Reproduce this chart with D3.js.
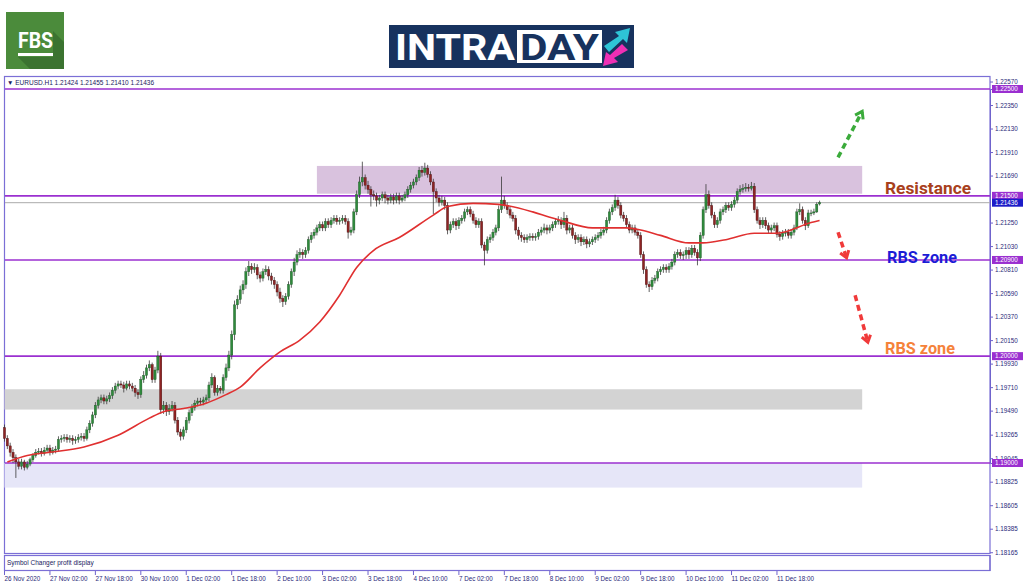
<!DOCTYPE html>
<html>
<head>
<meta charset="utf-8">
<script src="https://cdn.jsdelivr.net/npm/d3@7"></script>
<style>
body { margin: 0; background: #fff; }
svg { display: block; font-family: "Liberation Sans", Arial, sans-serif; }
</style>
</head>
<body>
<div id="chart"></div>
<script>
var width = 1024,
    height = 587;

// bottom axis labels, one every 16 hourly bars
var timeLabels = ["26 Nov 2020", "27 Nov 02:00", "27 Nov 18:00", "30 Nov 10:00", "1 Dec 02:00", "1 Dec 18:00",
    "2 Dec 10:00", "3 Dec 02:00", "3 Dec 18:00", "4 Dec 10:00", "7 Dec 02:00", "7 Dec 18:00", "8 Dec 10:00",
    "9 Dec 02:00", "9 Dec 18:00", "10 Dec 10:00", "11 Dec 02:00", "11 Dec 18:00"];

var priceTicks = [1.22570, 1.22350, 1.22130, 1.21910, 1.21690, 1.21250, 1.21030, 1.20810, 1.20590, 1.20370,
    1.20150, 1.19930, 1.19710, 1.19490, 1.19265, 1.19045, 1.18825, 1.18605, 1.18385, 1.18165];

var levels = [1.22500, 1.21500, 1.20900, 1.20000, 1.19000];
var lastPrice = 1.21436;

// EURUSD H1 candles, 16 bars per row
var opens = [
    1.1933, 1.1923, 1.1916, 1.1910, 1.1905, 1.1901, 1.1897, 1.1901, 1.1896, 1.1899, 1.1903, 1.1907, 1.1910, 1.1911, 1.1909, 1.1912,
    1.1914, 1.1910, 1.1912, 1.1913, 1.1922, 1.1923, 1.1924, 1.1922, 1.1923, 1.1921, 1.1922, 1.1924, 1.1925, 1.1923, 1.1931, 1.1937,
    1.1945, 1.1954, 1.1959, 1.1961, 1.1958, 1.1960, 1.1963, 1.1968, 1.1972, 1.1974, 1.1973, 1.1970, 1.1974, 1.1972, 1.1970, 1.1966,
    1.1964, 1.1978, 1.1982, 1.1989, 1.1992, 1.1978, 1.1987, 1.2000, 1.1950, 1.1954, 1.1948, 1.1951, 1.1954, 1.1940, 1.1929, 1.1925,
    1.1931, 1.1940, 1.1947, 1.1952, 1.1956, 1.1958, 1.1957, 1.1959, 1.1961, 1.1973, 1.1980, 1.1966, 1.1970, 1.1968, 1.1980, 1.1989,
    1.2001, 1.2020, 1.2048, 1.2053, 1.2062, 1.2067, 1.2079, 1.2084, 1.2081, 1.2083, 1.2076, 1.2073, 1.2079, 1.2081, 1.2075, 1.2071,
    1.2067, 1.2060, 1.2054, 1.2051, 1.2056, 1.2067, 1.2079, 1.2088, 1.2095, 1.2097, 1.2095, 1.2099, 1.2109, 1.2113, 1.2116, 1.2120,
    1.2123, 1.2120, 1.2126, 1.2123, 1.2127, 1.2129, 1.2126, 1.2127, 1.2129, 1.2126, 1.2116, 1.2118, 1.2135, 1.2151, 1.2163, 1.2167,
    1.2160, 1.2156, 1.2151, 1.2150, 1.2146, 1.2148, 1.2151, 1.2148, 1.2146, 1.2149, 1.2146, 1.2150, 1.2146, 1.2148, 1.2151, 1.2156,
    1.2160, 1.2163, 1.2167, 1.2174, 1.2172, 1.2176, 1.2170, 1.2163, 1.2154, 1.2148, 1.2144, 1.2146, 1.2141, 1.2118, 1.2123, 1.2126,
    1.2122, 1.2127, 1.2129, 1.2135, 1.2137, 1.2133, 1.2127, 1.2123, 1.2126, 1.2104, 1.2099, 1.2109, 1.2111, 1.2116, 1.2120, 1.2137,
    1.2146, 1.2141, 1.2137, 1.2132, 1.2129, 1.2118, 1.2113, 1.2111, 1.2109, 1.2111, 1.2112, 1.2111, 1.2112, 1.2116, 1.2118, 1.2120,
    1.2118, 1.2120, 1.2123, 1.2126, 1.2127, 1.2123, 1.2129, 1.2118, 1.2120, 1.2113, 1.2109, 1.2111, 1.2107, 1.2109, 1.2105, 1.2107,
    1.2109, 1.2111, 1.2113, 1.2116, 1.2118, 1.2127, 1.2135, 1.2139, 1.2146, 1.2141, 1.2132, 1.2129, 1.2123, 1.2118, 1.2120, 1.2116,
    1.2113, 1.2095, 1.2081, 1.2067, 1.2065, 1.2071, 1.2073, 1.2079, 1.2081, 1.2083, 1.2081, 1.2084, 1.2088, 1.2095, 1.2097, 1.2094,
    1.2095, 1.2099, 1.2095, 1.2101, 1.2097, 1.2092, 1.2113, 1.2137, 1.2151, 1.2141, 1.2132, 1.2123, 1.2127, 1.2135, 1.2137, 1.2141,
    1.2139, 1.2142, 1.2146, 1.2154, 1.2156, 1.2157, 1.2158, 1.2157, 1.2159, 1.2137, 1.2127, 1.2123, 1.2127, 1.2122, 1.2118, 1.2120,
    1.2122, 1.2114, 1.2112, 1.2115, 1.2116, 1.2113, 1.2116, 1.2120, 1.2135, 1.2137, 1.2127, 1.2122, 1.2134, 1.2134, 1.2135, 1.21424
];
var highs = [
    1.1936, 1.1926, 1.1919, 1.1913, 1.1908, 1.1904, 1.1904, 1.1903, 1.1902, 1.1905, 1.1909, 1.1913, 1.1914, 1.1914, 1.1915, 1.1917,
    1.1917, 1.1915, 1.1916, 1.1925, 1.1926, 1.1927, 1.1927, 1.1926, 1.1926, 1.1925, 1.1927, 1.1928, 1.1928, 1.1934, 1.1940, 1.1948,
    1.1957, 1.1962, 1.1964, 1.1964, 1.1963, 1.1966, 1.1971, 1.1975, 1.1977, 1.1977, 1.1976, 1.1977, 1.1977, 1.1975, 1.1973, 1.1969,
    1.1981, 1.1986, 1.1992, 1.1996, 1.1994, 1.1990, 1.2005, 1.2003, 1.1958, 1.1957, 1.1955, 1.1958, 1.1957, 1.1943, 1.1932, 1.1934,
    1.1943, 1.1950, 1.1955, 1.1959, 1.1961, 1.1961, 1.1962, 1.1964, 1.1976, 1.1984, 1.1982, 1.1973, 1.1972, 1.1983, 1.1993, 1.2005,
    1.2024, 1.2052, 1.2057, 1.2066, 1.2071, 1.2083, 1.2089, 1.2087, 1.2087, 1.2086, 1.2079, 1.2082, 1.2085, 1.2084, 1.2078, 1.2074,
    1.2070, 1.2064, 1.2057, 1.2059, 1.2070, 1.2082, 1.2092, 1.2099, 1.2101, 1.2100, 1.2102, 1.2112, 1.2116, 1.2119, 1.2123, 1.2126,
    1.2126, 1.2129, 1.2129, 1.2130, 1.2132, 1.2132, 1.2130, 1.2132, 1.2132, 1.2129, 1.2121, 1.2138, 1.2155, 1.2168, 1.2182, 1.2170,
    1.2164, 1.2159, 1.2155, 1.2153, 1.2151, 1.2154, 1.2154, 1.2151, 1.2152, 1.2152, 1.2153, 1.2153, 1.2151, 1.2154, 1.2159, 1.2163,
    1.2166, 1.2170, 1.2177, 1.2178, 1.2181, 1.2179, 1.2173, 1.2166, 1.2157, 1.2151, 1.2150, 1.2149, 1.2144, 1.2126, 1.2129, 1.2129,
    1.2130, 1.2132, 1.2138, 1.2140, 1.2140, 1.2136, 1.2130, 1.2129, 1.2129, 1.2107, 1.2112, 1.2114, 1.2119, 1.2123, 1.2141, 1.2168,
    1.2150, 1.2144, 1.2140, 1.2135, 1.2132, 1.2121, 1.2116, 1.2114, 1.2114, 1.2115, 1.2115, 1.2115, 1.2119, 1.2121, 1.2124, 1.2123,
    1.2123, 1.2126, 1.2129, 1.2131, 1.2130, 1.2135, 1.2132, 1.2123, 1.2123, 1.2116, 1.2114, 1.2114, 1.2112, 1.2112, 1.2110, 1.2112,
    1.2114, 1.2116, 1.2119, 1.2121, 1.2130, 1.2138, 1.2142, 1.2151, 1.2149, 1.2144, 1.2135, 1.2132, 1.2126, 1.2123, 1.2123, 1.2119,
    1.2116, 1.2098, 1.2084, 1.2070, 1.2074, 1.2076, 1.2082, 1.2084, 1.2086, 1.2086, 1.2087, 1.2091, 1.2098, 1.2100, 1.2100, 1.2098,
    1.2102, 1.2102, 1.2104, 1.2104, 1.2100, 1.2116, 1.2140, 1.2161, 1.2155, 1.2144, 1.2135, 1.2130, 1.2138, 1.2140, 1.2144, 1.2144,
    1.2145, 1.2149, 1.2157, 1.2160, 1.2161, 1.2162, 1.2161, 1.2163, 1.2162, 1.2140, 1.2130, 1.2130, 1.2130, 1.2125, 1.2123, 1.2125,
    1.2125, 1.2117, 1.2118, 1.2119, 1.2119, 1.2119, 1.2123, 1.2138, 1.2143, 1.2140, 1.2130, 1.2137, 1.2137, 1.2138, 1.2144, 1.21455
];
var lows = [
    1.1920, 1.1913, 1.1906, 1.1900, 1.1886, 1.1894, 1.1894, 1.1893, 1.1894, 1.1897, 1.1901, 1.1905, 1.1908, 1.1906, 1.1907, 1.1910,
    1.1907, 1.1908, 1.1909, 1.1911, 1.1919, 1.1920, 1.1919, 1.1919, 1.1917, 1.1918, 1.1919, 1.1921, 1.1920, 1.1921, 1.1928, 1.1934,
    1.1942, 1.1951, 1.1956, 1.1955, 1.1955, 1.1957, 1.1960, 1.1965, 1.1969, 1.1970, 1.1966, 1.1968, 1.1969, 1.1967, 1.1962, 1.1960,
    1.1961, 1.1975, 1.1979, 1.1986, 1.1975, 1.1975, 1.1984, 1.1946, 1.1946, 1.1944, 1.1945, 1.1948, 1.1937, 1.1926, 1.1921, 1.1922,
    1.1928, 1.1937, 1.1944, 1.1949, 1.1953, 1.1954, 1.1954, 1.1956, 1.1958, 1.1970, 1.1963, 1.1963, 1.1965, 1.1965, 1.1977, 1.1986,
    1.1997, 1.2015, 1.2044, 1.2049, 1.2058, 1.2063, 1.2075, 1.2077, 1.2078, 1.2072, 1.2069, 1.2070, 1.2076, 1.2071, 1.2067, 1.2063,
    1.2056, 1.2050, 1.2046, 1.2048, 1.2053, 1.2064, 1.2075, 1.2085, 1.2092, 1.2091, 1.2092, 1.2096, 1.2106, 1.2110, 1.2113, 1.2117,
    1.2117, 1.2117, 1.2120, 1.2120, 1.2124, 1.2123, 1.2123, 1.2124, 1.2123, 1.2110, 1.2113, 1.2115, 1.2132, 1.2148, 1.2159, 1.2156,
    1.2152, 1.2140, 1.2146, 1.2140, 1.2142, 1.2145, 1.2143, 1.2142, 1.2143, 1.2142, 1.2143, 1.2142, 1.2144, 1.2145, 1.2148, 1.2153,
    1.2157, 1.2160, 1.2164, 1.2168, 1.2169, 1.2167, 1.2160, 1.2133, 1.2144, 1.2140, 1.2141, 1.2137, 1.2114, 1.2115, 1.2120, 1.2118,
    1.2119, 1.2124, 1.2126, 1.2132, 1.2130, 1.2124, 1.2120, 1.2120, 1.2101, 1.2085, 1.2096, 1.2106, 1.2108, 1.2113, 1.2117, 1.2134,
    1.2138, 1.2133, 1.2129, 1.2126, 1.2114, 1.2109, 1.2107, 1.2106, 1.2106, 1.2108, 1.2108, 1.2108, 1.2109, 1.2113, 1.2115, 1.2114,
    1.2115, 1.2117, 1.2120, 1.2123, 1.2119, 1.2120, 1.2114, 1.2115, 1.2110, 1.2105, 1.2106, 1.2103, 1.2104, 1.2101, 1.2102, 1.2104,
    1.2106, 1.2108, 1.2110, 1.2113, 1.2115, 1.2124, 1.2132, 1.2136, 1.2138, 1.2129, 1.2126, 1.2120, 1.2115, 1.2115, 1.2113, 1.2110,
    1.2092, 1.2077, 1.2064, 1.2060, 1.2062, 1.2068, 1.2070, 1.2076, 1.2078, 1.2078, 1.2078, 1.2081, 1.2085, 1.2092, 1.2091, 1.2090,
    1.2091, 1.2091, 1.2092, 1.2094, 1.2085, 1.2089, 1.2110, 1.2134, 1.2138, 1.2129, 1.2120, 1.2120, 1.2124, 1.2132, 1.2134, 1.2136,
    1.2136, 1.2139, 1.2143, 1.2151, 1.2153, 1.2154, 1.2154, 1.2155, 1.2134, 1.2124, 1.2119, 1.2120, 1.2119, 1.2115, 1.2115, 1.2117,
    1.2111, 1.2108, 1.2109, 1.2112, 1.2110, 1.2110, 1.2113, 1.2118, 1.2132, 1.2124, 1.2118, 1.2120, 1.2131, 1.2132, 1.2134, 1.21410
];
var closes = [
    1.1923, 1.1916, 1.1910, 1.1905, 1.1901, 1.1897, 1.1901, 1.1896, 1.1899, 1.1903, 1.1907, 1.1910, 1.1911, 1.1909, 1.1912, 1.1914,
    1.1910, 1.1912, 1.1913, 1.1922, 1.1923, 1.1924, 1.1922, 1.1923, 1.1921, 1.1922, 1.1924, 1.1925, 1.1923, 1.1931, 1.1937, 1.1945,
    1.1954, 1.1959, 1.1961, 1.1958, 1.1960, 1.1963, 1.1968, 1.1972, 1.1974, 1.1973, 1.1970, 1.1974, 1.1972, 1.1970, 1.1966, 1.1964,
    1.1978, 1.1982, 1.1989, 1.1992, 1.1978, 1.1987, 1.2000, 1.1950, 1.1954, 1.1948, 1.1951, 1.1954, 1.1940, 1.1929, 1.1925, 1.1931,
    1.1940, 1.1947, 1.1952, 1.1956, 1.1958, 1.1957, 1.1959, 1.1961, 1.1973, 1.1980, 1.1966, 1.1970, 1.1968, 1.1980, 1.1989, 1.2001,
    1.2020, 1.2048, 1.2053, 1.2062, 1.2067, 1.2079, 1.2084, 1.2081, 1.2083, 1.2076, 1.2073, 1.2079, 1.2081, 1.2075, 1.2071, 1.2067,
    1.2060, 1.2054, 1.2051, 1.2056, 1.2067, 1.2079, 1.2088, 1.2095, 1.2097, 1.2095, 1.2099, 1.2109, 1.2113, 1.2116, 1.2120, 1.2123,
    1.2120, 1.2126, 1.2123, 1.2127, 1.2129, 1.2126, 1.2127, 1.2129, 1.2126, 1.2116, 1.2118, 1.2135, 1.2151, 1.2163, 1.2167, 1.2160,
    1.2156, 1.2151, 1.2150, 1.2146, 1.2148, 1.2151, 1.2148, 1.2146, 1.2149, 1.2146, 1.2150, 1.2146, 1.2148, 1.2151, 1.2156, 1.2160,
    1.2163, 1.2167, 1.2174, 1.2172, 1.2176, 1.2170, 1.2163, 1.2154, 1.2148, 1.2144, 1.2146, 1.2141, 1.2118, 1.2123, 1.2126, 1.2122,
    1.2127, 1.2129, 1.2135, 1.2137, 1.2133, 1.2127, 1.2123, 1.2126, 1.2104, 1.2099, 1.2109, 1.2111, 1.2116, 1.2120, 1.2137, 1.2146,
    1.2141, 1.2137, 1.2132, 1.2129, 1.2118, 1.2113, 1.2111, 1.2109, 1.2111, 1.2112, 1.2111, 1.2112, 1.2116, 1.2118, 1.2120, 1.2118,
    1.2120, 1.2123, 1.2126, 1.2127, 1.2123, 1.2129, 1.2118, 1.2120, 1.2113, 1.2109, 1.2111, 1.2107, 1.2109, 1.2105, 1.2107, 1.2109,
    1.2111, 1.2113, 1.2116, 1.2118, 1.2127, 1.2135, 1.2139, 1.2146, 1.2141, 1.2132, 1.2129, 1.2123, 1.2118, 1.2120, 1.2116, 1.2113,
    1.2095, 1.2081, 1.2067, 1.2065, 1.2071, 1.2073, 1.2079, 1.2081, 1.2083, 1.2081, 1.2084, 1.2088, 1.2095, 1.2097, 1.2094, 1.2095,
    1.2099, 1.2095, 1.2101, 1.2097, 1.2092, 1.2113, 1.2137, 1.2151, 1.2141, 1.2132, 1.2123, 1.2127, 1.2135, 1.2137, 1.2141, 1.2139,
    1.2142, 1.2146, 1.2154, 1.2156, 1.2157, 1.2158, 1.2157, 1.2159, 1.2137, 1.2127, 1.2123, 1.2127, 1.2122, 1.2118, 1.2120, 1.2122,
    1.2114, 1.2112, 1.2115, 1.2116, 1.2113, 1.2116, 1.2120, 1.2135, 1.2137, 1.2127, 1.2122, 1.2134, 1.2134, 1.2135, 1.2142, 1.21436
];

// red moving average, read at a few bars
var maIndex = [1, 8, 16, 28, 40, 51, 56, 63, 71, 78, 83, 90, 97, 104, 111, 118, 124, 130, 139, 151, 156, 165, 174, 186, 192,
    196, 207, 219, 224, 231, 241, 246, 254, 264, 272, 284, 287];
var maValues = [1.1901, 1.1907, 1.1910, 1.1915, 1.1926, 1.1942, 1.1948, 1.1951, 1.1956, 1.1964, 1.1971, 1.1989, 1.2004, 1.2015,
    1.2032, 1.2057, 1.2083, 1.2099, 1.2111, 1.2132, 1.2140, 1.2143, 1.2142, 1.2135, 1.2130, 1.2127, 1.2120, 1.2120, 1.2118,
    1.2113, 1.2106, 1.2106, 1.2109, 1.2115, 1.2115, 1.2125, 1.2127];

// shaded zones: top, bottom, first bar, last bar
var zoneTops = [1.2178, 1.1969, 1.1900];
var zoneBottoms = [1.2152, 1.1950, 1.1877];
var zoneStarts = [110, 0, 0];
var zoneEnds = [302, 302, 302];
var zoneColors = ["#d9c2de", "#d3d3d3", "#e6e6f8"];

var svg = d3.select("#chart").append("svg")
    .attr("width", width)
    .attr("height", height);

var x = d3.scaleLinear().domain([0, closes.length - 1]).range([4.5, 4.5 + 2.84 * (closes.length - 1)]);
var y = d3.scaleLinear().domain([1.19, 1.225]).range([463, 89]);

var axisX = 990, panelTop = 76, panelBottom = 553;

// logos
var fbs = svg.append("g");
fbs.append("rect").attr("x", 6).attr("y", 12).attr("width", 58).attr("height", 57).attr("fill", "#4b8b3b");
fbs.append("polygon").attr("points", "18,57 53,57 53,31 64,42 64,69 30,69").attr("fill", "#3b7330");
fbs.append("text").attr("x", 18).attr("y", 48).attr("textLength", 35).attr("lengthAdjust", "spacingAndGlyphs")
    .attr("fill", "#fff").style("font", "bold 22px Roboto").text("FBS");
fbs.append("rect").attr("x", 18).attr("y", 53).attr("width", 35).attr("height", 3).attr("fill", "#fff");

var intra = svg.append("g");
intra.append("rect").attr("x", 389).attr("y", 25).attr("width", 245).attr("height", 43).attr("fill", "#17325e");
intra.append("rect").attr("x", 517).attr("y", 30).attr("width", 85).attr("height", 33).attr("fill", "#fff");
intra.append("text").attr("x", 395).attr("y", 60).attr("textLength", 120).attr("lengthAdjust", "spacingAndGlyphs")
    .attr("fill", "#fff").style("font", "bold 37px Roboto").text("INTRA");
intra.append("text").attr("x", 520).attr("y", 60).attr("textLength", 79).attr("lengthAdjust", "spacingAndGlyphs")
    .attr("fill", "#17325e").style("font", "bold 37px Roboto").text("DAY");
intra.append("polygon").attr("points", "604,46 619,36 615,32 630,28 627,43 623,39 609,52").attr("fill", "#2ec4d6");
intra.append("polygon").attr("points", "628,50 614,58 618,62 603,66 606,52 610,55 622,44").attr("fill", "#ee2fb4");

// chart frame
svg.append("rect").attr("x", 4.5).attr("y", panelTop + 0.5).attr("width", axisX - 4.5).attr("height", panelBottom - panelTop)
    .attr("fill", "#fff").attr("stroke", "#7b6fd6").attr("stroke-width", 1.2);
svg.append("rect").attr("x", 4.5).attr("y", 555.5).attr("width", axisX - 4.5).attr("height", 15)
    .attr("fill", "#fff").attr("stroke", "#7b6fd6").attr("stroke-width", 1.2);

svg.append("text").attr("x", 7).attr("y", 85).attr("fill", "#1a1a5e").style("font-size", "6.5px")
    .text("\u25BC EURUSD.H1  1.21424 1.21455 1.21410 1.21436");
svg.append("text").attr("x", 7).attr("y", 565).attr("fill", "#1a1a5e").style("font-size", "6.5px")
    .text("Symbol Changer profit display");

// zones
svg.append("g").selectAll("rect").data(zoneTops).enter().append("rect")
    .attr("x", function (d, i) { return x(zoneStarts[i]); })
    .attr("y", function (d) { return y(d); })
    .attr("width", function (d, i) { return x(zoneEnds[i]) - x(zoneStarts[i]); })
    .attr("height", function (d, i) { return y(zoneBottoms[i]) - y(d); })
    .attr("fill", function (d, i) { return zoneColors[i]; });

// levels
svg.append("g").selectAll("line").data(levels).enter().append("line")
    .attr("x1", 5).attr("x2", axisX)
    .attr("y1", function (d) { return y(d); }).attr("y2", function (d) { return y(d); })
    .attr("stroke", "#9b30d0").attr("stroke-width", 1.6);
svg.append("line").attr("x1", 5).attr("x2", axisX).attr("y1", y(lastPrice)).attr("y2", y(lastPrice))
    .attr("stroke", "#aaaaaa").attr("stroke-width", 1);

// candles
var idx = d3.range(closes.length);
var candles = svg.append("g").selectAll("g").data(idx).enter().append("g");
candles.append("line")
    .attr("x1", function (i) { return x(i); }).attr("x2", function (i) { return x(i); })
    .attr("y1", function (i) { return y(highs[i]); })
    .attr("y2", function (i) { return y(lows[i]); })
    .attr("stroke", "#3a3a3a").attr("stroke-width", 0.8);
candles.append("rect")
    .attr("x", function (i) { return x(i) - 1.1; })
    .attr("width", 2.2)
    .attr("y", function (i) { return y(Math.max(opens[i], closes[i])); })
    .attr("height", function (i) { return Math.max(0.8, Math.abs(y(opens[i]) - y(closes[i]))); })
    .attr("fill", function (i) { return closes[i] >= opens[i] ? "#2f8a3c" : "#8e2424"; })
    .attr("stroke", function (i) { return closes[i] >= opens[i] ? "#1d5a26" : "#4a1212"; })
    .attr("stroke-width", 0.4);

// moving average
svg.append("path").datum(maIndex)
    .attr("fill", "none").attr("stroke", "#e03030").attr("stroke-width", 1.6)
    .attr("d", d3.line().x(function (d) { return x(d); }).y(function (d, i) { return y(maValues[i]); }).curve(d3.curveMonotoneX));

// annotation arrows
function arrow(x1, y1, x2, y2, color) {
    svg.append("line").attr("x1", x1).attr("y1", y1).attr("x2", x2).attr("y2", y2)
        .attr("stroke", color).attr("stroke-width", 3.5).attr("stroke-dasharray", "6,4");
    var a = Math.atan2(y2 - y1, x2 - x1), l = 8;
    var p1 = [x2 - l * Math.cos(a - 0.6), y2 - l * Math.sin(a - 0.6)],
        p2 = [x2 - l * Math.cos(a + 0.6), y2 - l * Math.sin(a + 0.6)];
    svg.append("polyline").attr("points", [p1, [x2, y2], p2].join(" "))
        .attr("fill", "none").attr("stroke", color).attr("stroke-width", 3);
}
arrow(x(293.5), y(1.2186), x(302), y(1.2229), "#3bab3b");
arrow(x(293.5), y(1.2116), x(296.5), y(1.2092), "#f03a3a");
arrow(x(299.5), y(1.2057), x(304), y(1.2013), "#f03a3a");

svg.append("text").attr("x", 885).attr("y", 194).attr("textLength", 86).attr("lengthAdjust", "spacingAndGlyphs")
    .attr("fill", "#a8401c").style("font", "bold 17px Roboto").text("Resistance");
svg.append("text").attr("x", 887).attr("y", 263).attr("textLength", 70).attr("lengthAdjust", "spacingAndGlyphs")
    .attr("fill", "#1c1cd6").style("font", "bold 17px Roboto").text("RBS zone");
svg.append("text").attr("x", 885).attr("y", 354).attr("textLength", 70).attr("lengthAdjust", "spacingAndGlyphs")
    .attr("fill", "#f5823a").style("font", "bold 17px Roboto").text("RBS zone");

// price axis
var yAxis = d3.axisRight(y).tickValues(priceTicks).tickSize(3).tickFormat(d3.format(".5f"));
var ya = svg.append("g").attr("transform", "translate(" + axisX + ",0)").call(yAxis);
ya.select(".domain").attr("stroke", "#6f63cc");
ya.selectAll("line").attr("stroke", "#6f63cc");
ya.selectAll("text").attr("fill", "#2a2a7a").style("font-size", "6.3px").attr("x", 5);
svg.append("line").attr("x1", axisX).attr("x2", axisX).attr("y1", 555).attr("y2", 571).attr("stroke", "#6f63cc");

var marks = levels.concat([lastPrice]);
var tags = svg.append("g").selectAll("g").data(marks).enter().append("g")
    .attr("transform", function (d) { return "translate(" + (axisX + 2) + "," + y(d) + ")"; });
tags.append("rect").attr("x", 0).attr("y", -4).attr("width", 31).attr("height", 8)
    .attr("fill", function (d) { return d === lastPrice ? "#1c1cc8" : "#9a2fd0"; });
tags.append("text").attr("x", 3).attr("y", 2.2).attr("fill", "#fff").style("font-size", "6.3px")
    .text(function (d) { return d3.format(".5f")(d); });

// time axis
var ticks = svg.append("g").selectAll("g").data(timeLabels).enter().append("g")
    .attr("transform", function (d, i) { return "translate(" + x(i * 16) + ",571)"; });
ticks.append("line").attr("y1", 0).attr("y2", 4).attr("stroke", "#6f63cc");
ticks.append("text").attr("x", 0).attr("y", 10).attr("fill", "#2a2a7a").style("font-size", "6.3px")
    .text(function (d) { return d; });
</script>
</body>
</html>
